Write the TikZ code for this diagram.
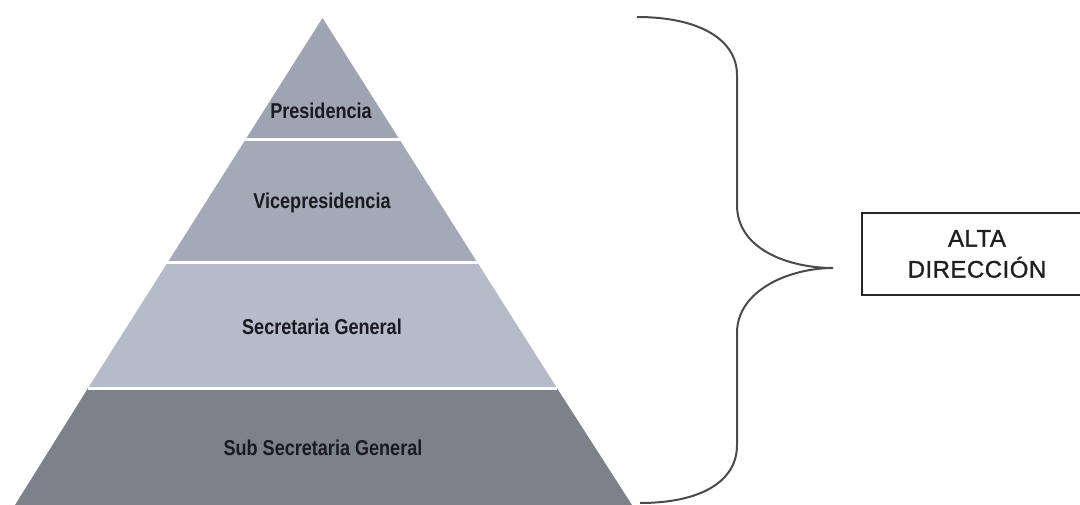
\documentclass[tikz,border=0pt]{standalone}
\usepackage{fontspec}
\newfontfamily\tierfont{Liberation Sans}[FakeStretch=0.84]
\newfontfamily\boxfont{Liberation Sans}[FakeBold=1.2, LetterSpace=2]
\definecolor{tierA}{HTML}{9EA4B2}
\definecolor{tierB}{HTML}{A3A9B7}
\definecolor{tierC}{HTML}{B5BBC9}
\definecolor{tierD}{HTML}{7C818A}
\definecolor{inkgray}{HTML}{1A1A20}
\definecolor{bracegray}{HTML}{4A4A4A}
\tikzset{
  tierlabel/.style={text=inkgray, font=\tierfont\bfseries\fontsize{21.5}{24}\selectfont},
  sepline/.style={white, line width=3pt},
  dirbox/.style={draw=black!85, line width=2pt, minimum width=230pt, minimum height=82pt,
    align=center, font=\boxfont\fontsize{24}{31}\selectfont, text=black!88},
}
\begin{document}
\begin{tikzpicture}[x=1pt, y=-1pt]
      \useasboundingbox (0,0) rectangle (1080,505);

      % pyramid tiers
      \fill[tierA] (322.5,18) -- (399.8,140) -- (245.2,140) -- cycle;
      \fill[tierB] (245.2,140) -- (399.8,140) -- (477.7,263) -- (167.3,263) -- cycle;
      \fill[tierC] (167.3,263) -- (477.7,263) -- (556.9,388) -- (88.1,388) -- cycle;
      \fill[tierD] (88.1,388) -- (556.9,388) -- (632,505) -- (15,505) -- cycle;

      \draw[sepline] (245.2,140) -- (399.8,140);
      \draw[sepline] (167.3,263) -- (477.7,263);
      \draw[sepline] (88.1,388) -- (556.9,388);

      \node[tierlabel] (pres) at (321,111) {Presidencia};
      \node[tierlabel] (vice) at (322,203) {Vicepresidencia};
      \node[tierlabel] (sec) at (322,327) {Secretaria General};
      \node[tierlabel] (sub) at (323,448) {Sub Secretaria General};

      % brace
      \coordinate (btop) at (637,17);
      \coordinate (bbot) at (640,503);
      \coordinate (btip) at (833,268);
      \node[dirbox] (alta) at (977,254) {ALTA\\DIRECCIÓN};

      \draw[bracegray, line width=2pt] (btop) .. controls (700,17) and (737,40) .. (737,75)
        -- (737,205) .. controls (737,250) and (790,268) .. (btip)
        .. controls (790,268) and (737,290) .. (737,333)
        -- (737,445) .. controls (737,482) and (700,503) .. (bbot);
    \end{tikzpicture}
\end{document}
